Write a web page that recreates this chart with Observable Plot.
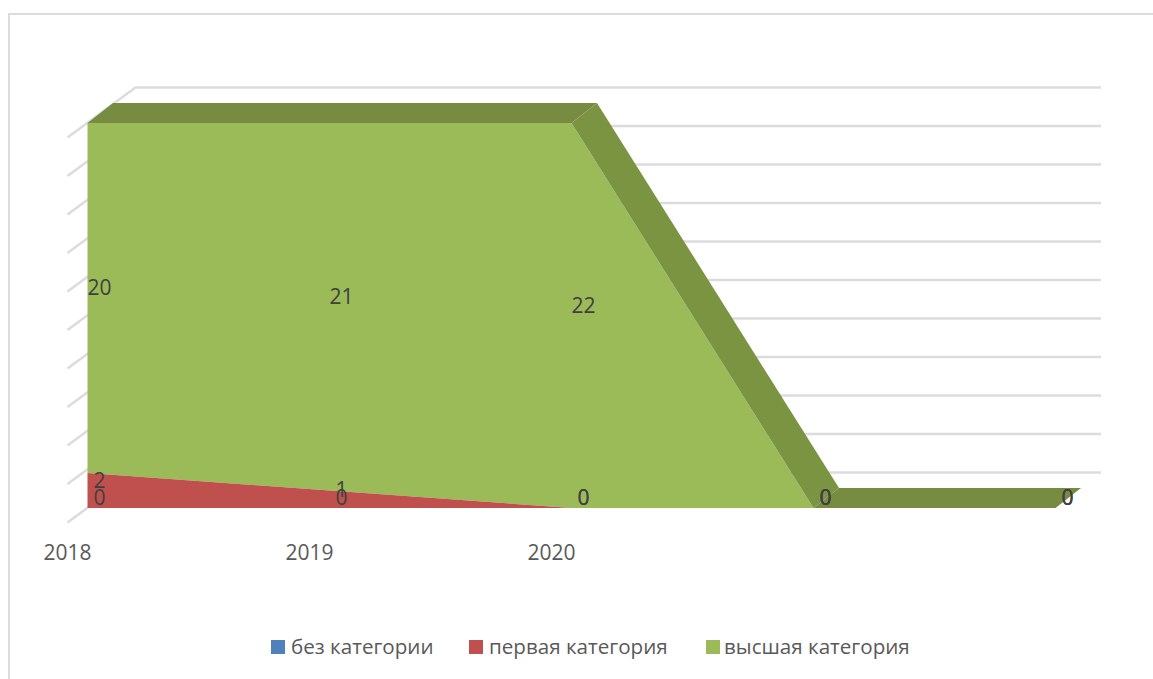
<!DOCTYPE html>
<html>
<head>
<meta charset="utf-8">
<script src="https://cdn.jsdelivr.net/npm/d3@7"></script>
<script src="https://cdn.jsdelivr.net/npm/@observablehq/plot@0.6"></script>
<style>
  html, body { margin: 0; padding: 0; background: #fff; }
  #chart { position: relative; width: 1153px; height: 679px; overflow: hidden; font-family: "Open Sans", sans-serif; }
  #chart svg { position: absolute; left: 0; top: 0; display: block; }
  #frame { position: absolute; left: 8px; top: 13px; right: -4px; bottom: -4px; border: 2px solid #dcdcdc; }
  .item { position: absolute; top: 633px; height: 26px; line-height: 26px; font-size: 20.6px; color: #595959; white-space: nowrap; }
  .item i { position: absolute; left: 0; top: 7px; width: 14px; height: 14px; }
  .item span { position: absolute; top: 0; }
</style>
</head>
<body>
<div id="chart"><div id="frame"></div></div>
<script>
const years = ["2018", "2019", "2020", "", ""];
const noCategory = [0, 0, 0, 0, 0];
const firstCategory = [2, 1, 0, 0, 0];
const topCategory = [20, 21, 22, 0, 0];
const seriesNames = ["без категории", "первая категория", "высшая категория"];
const seriesColors = ["#4f81bd", "#c0504d", "#9bbb59"];
const gridSteps = [0, 2.2, 4.4, 6.6, 8.8, 11, 13.2, 15.4, 17.6, 19.8, 22];

const idx = years.map((_, i) => i);
const total = i => noCategory[i] + firstCategory[i] + topCategory[i];

// depth of the pseudo-3D view, expressed in scale units
const floorDX = 47.5 / 242, floorDY = 36 / 17.5;   // wall back edge
const tickDX = -20.5 / 242, tickDY = -14 / 17.5;   // floor front edge
const bandDX = 25.5 / 242, bandDY = 20 / 17.5;     // thickness of the top surface

const ribbon = (from, to) => d3.range(from, to + 1).map(i => ({
  x1: i, y1: total(i), x2: i + bandDX, y2: total(i) + bandDY
}));

const labels = [];
idx.forEach(i => {
  labels.push({x: i, y: noCategory[i] / 2, t: noCategory[i]});
  labels.push({x: i, y: noCategory[i] + firstCategory[i] / 2, t: firstCategory[i]});
  labels.push({x: i, y: noCategory[i] + firstCategory[i] + topCategory[i] / 2, t: topCategory[i]});
});

const plot = Plot.plot({
  width: 1153,
  height: 679,
  marginLeft: 87.5,
  marginRight: 97.5,
  marginTop: 123,
  marginBottom: 171,
  x: {domain: [0, 4], axis: null},
  y: {domain: [0, 22], axis: null},
  style: {background: "transparent", fontFamily: "'Open Sans', sans-serif"},
  marks: [
    Plot.ruleY(gridSteps, {
      y: d => d + floorDY,
      x1: floorDX,
      x2: 4 + 45.5 / 242,
      stroke: "#dcdcdc",
      strokeWidth: 2.5
    }),
    Plot.link(gridSteps, {
      x1: tickDX,
      y1: d => d + tickDY,
      x2: floorDX,
      y2: d => d + floorDY,
      stroke: "#dcdcdc",
      strokeWidth: 2.5
    }),
    Plot.areaY(idx, {x: i => i, y1: i => noCategory[i] + firstCategory[i], y2: total, fill: seriesColors[2]}),
    Plot.areaY(idx, {x: i => i, y1: i => noCategory[i], y2: i => noCategory[i] + firstCategory[i], fill: seriesColors[1]}),
    Plot.area(ribbon(0, 2), {x1: "x1", y1: "y1", x2: "x2", y2: "y2", fill: "#778c41"}),
    Plot.area(ribbon(2, 3), {x1: "x1", y1: "y1", x2: "x2", y2: "y2", fill: "#7b9442"}),
    Plot.area(ribbon(3, 4), {x1: "x1", y1: "y1", x2: "x2", y2: "y2", fill: "#778c41"}),
    Plot.text(labels, {x: "x", y: "y", text: "t", dx: 11.5, dy: -9.8, fontSize: 21, fill: "#404040"}),
    Plot.text(idx, {x: i => i, y: 0, text: i => years[i], dx: -20.5, dy: 45, fontSize: 21, fill: "#595959"})
  ]
});
const chart = document.getElementById("chart");
chart.appendChild(plot);

const itemLeft = [271, 469, 706];
const textLeft = [20, 20, 18];
seriesNames.forEach((name, k) => {
  const el = document.createElement("div");
  el.className = "item";
  el.style.left = itemLeft[k] + "px";
  const sw = document.createElement("i");
  sw.style.background = seriesColors[k];
  const tx = document.createElement("span");
  tx.style.left = textLeft[k] + "px";
  tx.textContent = name;
  el.append(sw, tx);
  chart.appendChild(el);
});
</script>
</body>
</html>
